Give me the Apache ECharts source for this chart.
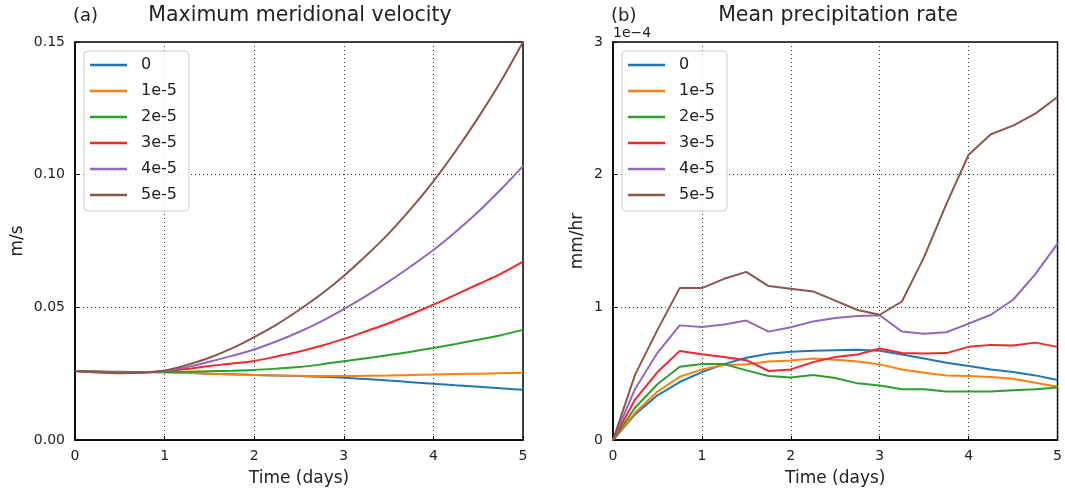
<!DOCTYPE html>
<html>
<head>
<meta charset="utf-8">
<script src="https://cdn.jsdelivr.net/npm/echarts@6/dist/echarts.min.js"></script>
<style>
  html, body { margin: 0; padding: 0; background: #fff; }
  #chart { width: 1065px; height: 492px; }
</style>
</head>
<body>
<div id="chart"></div>
<script>
// time in days, one sample every 6 hours
const days = [0, 0.25, 0.5, 0.75, 1, 1.25, 1.5, 1.75, 2, 2.25, 2.5, 2.75, 3, 3.25, 3.5, 3.75, 4, 4.25, 4.5, 4.75, 5];
const names = ['0', '1e-5', '2e-5', '3e-5', '4e-5', '5e-5'];
const colors = ['#1f77b4', '#ff7f0e', '#2ca02c', '#f42828', '#9467bd', '#8c564b'];

// (a) maximum meridional velocity, m/s
const vel0 = [0.026, 0.0258, 0.0257, 0.0256, 0.0255, 0.0253, 0.025, 0.0248, 0.0245, 0.0243, 0.0241, 0.0238, 0.0235, 0.023, 0.0224, 0.0218, 0.0212, 0.0206, 0.0201, 0.0195, 0.0189];
const vel1 = [0.026, 0.0258, 0.0256, 0.0256, 0.0255, 0.0253, 0.025, 0.0247, 0.0245, 0.0243, 0.0242, 0.0241, 0.0241, 0.0242, 0.0243, 0.0245, 0.0247, 0.0249, 0.025, 0.0252, 0.0253];
const vel2 = [0.026, 0.0258, 0.0256, 0.0256, 0.0256, 0.0257, 0.0259, 0.0261, 0.0264, 0.0269, 0.0275, 0.0285, 0.0297, 0.0308, 0.032, 0.0333, 0.0347, 0.0362, 0.0378, 0.0395, 0.0415];
const vel3 = [0.026, 0.0256, 0.0254, 0.0255, 0.0259, 0.0268, 0.0279, 0.0288, 0.0298, 0.0315, 0.0333, 0.0355, 0.0381, 0.041, 0.044, 0.0474, 0.051, 0.0548, 0.0587, 0.0626, 0.0672];
const vel4 = [0.026, 0.0255, 0.0253, 0.0254, 0.026, 0.0275, 0.0295, 0.0317, 0.0341, 0.0372, 0.0407, 0.0447, 0.0493, 0.0543, 0.0597, 0.0655, 0.0716, 0.0785, 0.086, 0.0943, 0.1032];
const vel5 = [0.026, 0.0255, 0.0252, 0.0253, 0.0262, 0.0283, 0.031, 0.0345, 0.0388, 0.0435, 0.049, 0.055, 0.0618, 0.0695, 0.0778, 0.0872, 0.0975, 0.109, 0.1215, 0.135, 0.15];

// (b) mean precipitation rate, mm/hr in units of 1e-4
const pr0 = [0, 0.195, 0.337, 0.437, 0.512, 0.572, 0.62, 0.65, 0.665, 0.672, 0.677, 0.68, 0.672, 0.645, 0.615, 0.582, 0.557, 0.532, 0.512, 0.487, 0.452];
const pr1 = [0, 0.207, 0.365, 0.477, 0.532, 0.565, 0.57, 0.592, 0.6, 0.615, 0.605, 0.592, 0.57, 0.532, 0.507, 0.487, 0.482, 0.475, 0.462, 0.432, 0.402];
const pr2 = [0, 0.245, 0.42, 0.552, 0.572, 0.572, 0.525, 0.482, 0.472, 0.49, 0.467, 0.427, 0.41, 0.382, 0.382, 0.365, 0.365, 0.365, 0.375, 0.382, 0.395];
const pr3 = [0, 0.307, 0.512, 0.67, 0.647, 0.625, 0.602, 0.52, 0.532, 0.587, 0.625, 0.645, 0.69, 0.655, 0.652, 0.655, 0.702, 0.717, 0.712, 0.734, 0.702];
const pr4 = [0, 0.387, 0.657, 0.864, 0.852, 0.87, 0.9, 0.817, 0.85, 0.894, 0.919, 0.934, 0.94, 0.817, 0.8, 0.812, 0.877, 0.944, 1.057, 1.25, 1.48];
const pr5 = [0, 0.495, 0.83, 1.145, 1.145, 1.215, 1.267, 1.16, 1.14, 1.12, 1.05, 0.98, 0.944, 1.044, 1.38, 1.78, 2.15, 2.305, 2.37, 2.46, 2.585];

const velData = [vel0, vel1, vel2, vel3, vel4, vel5];
const prData = [pr0, pr1, pr2, pr3, pr4, pr5];

const font = 'DejaVu Sans';
const textColor = '#222';

function pairs(vals) {
  return days.map((d, i) => [d, vals[i]]);
}

function xAxisFor(gridIndex) {
  return {
    gridIndex,
    type: 'value',
    min: 0,
    max: 5,
    interval: 1,
    name: 'Time (days)',
    nameLocation: 'middle',
    nameGap: 30,
    nameTextStyle: { fontFamily: font, fontSize: 17, color: textColor },
    axisLine: { show: true, lineStyle: { color: '#000', width: 1.5 } },
    axisTick: { show: true, inside: true, length: 4, lineStyle: { color: '#000' } },
    axisLabel: { fontFamily: font, fontSize: 14, color: textColor, margin: 9 },
    splitLine: { show: true, lineStyle: { color: '#333', type: [1, 3], width: 1 } }
  };
}

function legendFor(left) {
  return {
    orient: 'vertical',
    left,
    top: 51,
    data: names,
    icon: 'rect',
    itemWidth: 37,
    itemHeight: 2.5,
    itemGap: 10,
    padding: [6, 12, 8, 6],
    backgroundColor: 'rgba(255,255,255,0.8)',
    borderColor: '#ccc',
    borderWidth: 1,
    borderRadius: 4,
    textStyle: { fontFamily: font, fontSize: 16, lineHeight: 16, color: textColor, padding: [0, 0, 0, 9] }
  };
}

const series = [];
names.forEach((n, i) => {
  series.push({
    name: n, type: 'line', xAxisIndex: 0, yAxisIndex: 0,
    data: pairs(velData[i]), smooth: 0.3, symbol: 'none',
    lineStyle: { width: 2, color: colors[i] }, itemStyle: { color: colors[i] }
  });
});
names.forEach((n, i) => {
  series.push({
    name: n, type: 'line', xAxisIndex: 1, yAxisIndex: 1,
    data: pairs(prData[i]), symbol: 'none',
    lineStyle: { width: 2, color: colors[i] }, itemStyle: { color: colors[i] }
  });
});

const titleStyle = size => ({ fontFamily: font, fontSize: size, fontWeight: 'normal', color: textColor });

const chart = echarts.init(document.getElementById('chart'));
chart.setOption({
  animation: false,
  backgroundColor: '#fff',
  title: [
    { text: '(a)', left: 73, top: 7, padding: 0, textStyle: titleStyle(18) },
    { text: 'Maximum meridional velocity', left: 300, top: 5, padding: 0, textAlign: 'center', textStyle: titleStyle(20.5) },
    { text: '(b)', left: 611, top: 7, padding: 0, textStyle: titleStyle(18) },
    { text: 'Mean precipitation rate', left: 838, top: 5, padding: 0, textAlign: 'center', textStyle: titleStyle(20.5) },
    { text: '1e\u22124', left: 613, top: 26, padding: 0, textStyle: titleStyle(14) }
  ],
  grid: [
    { left: 75, right: 542, top: 42, bottom: 49, show: true, borderColor: '#000', borderWidth: 1.5, backgroundColor: 'transparent' },
    { left: 613, right: 3, top: 42, bottom: 49, show: true, borderColor: '#000', borderWidth: 1.5, backgroundColor: 'transparent' }
  ],
  legend: [legendFor(84), legendFor(622)],
  xAxis: [xAxisFor(0), xAxisFor(1)],
  yAxis: [
    {
      gridIndex: 0, type: 'value', min: 0, max: 0.15, interval: 0.05,
      name: 'm/s', nameLocation: 'middle', nameGap: 49,
      nameTextStyle: { fontFamily: font, fontSize: 17, color: textColor },
      axisLine: { show: true, lineStyle: { color: '#000', width: 1.5 } },
      axisTick: { show: true, inside: true, length: 4, lineStyle: { color: '#000' } },
      axisLabel: { fontFamily: font, fontSize: 14, color: textColor, margin: 10, formatter: v => v.toFixed(2) },
      splitLine: { show: true, lineStyle: { color: '#333', type: [1, 3], width: 1 } }
    },
    {
      gridIndex: 1, type: 'value', min: 0, max: 3, interval: 1,
      name: 'mm/hr', nameLocation: 'middle', nameGap: 27,
      nameTextStyle: { fontFamily: font, fontSize: 17, color: textColor },
      axisLine: { show: true, lineStyle: { color: '#000', width: 1.5 } },
      axisTick: { show: true, inside: true, length: 4, lineStyle: { color: '#000' } },
      axisLabel: { fontFamily: font, fontSize: 14, color: textColor, margin: 10 },
      splitLine: { show: true, lineStyle: { color: '#333', type: [1, 3], width: 1 } }
    }
  ],
  series
});
</script>
</body>
</html>
